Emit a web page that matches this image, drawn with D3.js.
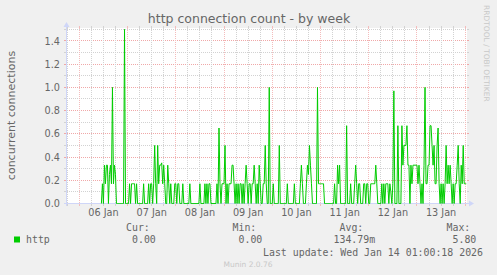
<!DOCTYPE html>
<html>
<head>
<meta charset="utf-8">
<script src="https://cdn.jsdelivr.net/npm/d3@7"></script>
<style>
  body { margin: 0; background: #f0f0f0; }
  svg { display: block; }
  text { font-family: "DejaVu Sans", sans-serif; fill: #666666; }
  text.mono { font-family: "DejaVu Sans Mono", monospace; }
</style>
</head>
<body>
<div id="chart"></div>
<script>
// half-hour samples of concurrent connections, one array per day (null = no data)
var jan06 = [null,null,null,null,null,null,null,null,null,null,null,null,null,null,null,null,null,null,null,null,null,null,
  0,0.17,0,0.33,0.17,0.33,0.33,0,0.25,0.33,0.17,1.0,0.17,0.33,0.25,0,0,0,0,0,0,0,0,1.5,0,0];
var jan07 = [0,0,0.17,0,0.17,0.17,0.17,0.17,0,0.17,0,0,0,0,0,0,0.17,0,0,0,0,0.17,0,0.17,
  0.17,0,0.17,0.5,0.17,0,0.5,0.17,0.33,0.33,0.35,0.17,0.33,0.17,0,0,0.33,0.17,0,0.17,0,0,0,0.17];
var jan08 = [0.17,0,0.17,0.17,0,0,0,0.17,0,0,0,0,0,0,0.17,0,0,0,0,0,0,0,0,0,
  0.17,0,0,0,0,0.17,0,0.17,0,0.17,0.17,0,0,0,0,0,0,0.17,0,0.65,0.17,0,0.17,0.17];
var jan09 = [0.17,0.5,0,0.17,0,0.17,0.17,0.17,0.33,0.33,0.17,0,0.17,0,0.17,0,0.17,0.17,0,0.17,0,0.17,0.33,0.17,
  0,0.17,0.17,0,0.17,0.17,0.33,0.17,0,0.17,0,0.33,0.17,0,0,0.17,0.17,0.5,0.17,0,0,1.0,0,0];
var jan10 = [0,0.17,0,0,0,0,0,0.5,0,0,0,0,0,0,0,0.17,0,0,0,0,0,0,0.17,0,
  0,0,0,0,0.17,0.33,0.17,0,0,0,0.17,0.33,0.25,0.5,0.33,0.17,0,0,0,0,0,1.0,0.17,0.17];
var jan11 = [0.17,0.17,0.17,0.17,0,0,0,0,0,0,0,0,0,0,0.17,0,0,0.33,0.17,0.33,0,0,0,0,
  0,0,0.67,0,0,0,0.17,0,0,0,0.17,0.33,0.17,0,0.17,0.17,0,0,0,0.17,0.17,0,0.17,0.17];
var jan12 = [0,0,0.17,0.17,0.17,0.17,0.17,0.33,0.17,0,0,0,0,0.17,0,0.17,0,0.17,0.17,0.17,0,0.17,0.1,0,
  0.17,0.97,0,0,0,0.67,0,0,0,0.67,0.33,0.5,0.5,0.5,0.67,0.33,0.33,0,0.33,0.17,0.33,0.33,0.33,0.33];
var jan13 = [0.33,0.17,0.33,0.17,0,0.17,0,0.33,1.0,0.17,0.17,0.33,0.33,0.67,0.67,0.5,0.33,0.5,0.17,0.17,0.5,0.65,0.17,0,
  0.17,0,0.17,0,0.17,0.5,0.17,0.33,0.17,0.33,0.17,0,0.17,0,0.17,0.17,0.33,0.5,0.17,0,0.33,0.17,0.5,0.17];
var jan14 = [0.17,0.17];

var dayStarts = ["2026-01-06","2026-01-07","2026-01-08","2026-01-09","2026-01-10",
  "2026-01-11","2026-01-12","2026-01-13","2026-01-14"];
var dayValues = [jan06, jan07, jan08, jan09, jan10, jan11, jan12, jan13, jan14];

var yTicks = [0, 0.2, 0.4, 0.6, 0.8, 1.0, 1.2, 1.4];
var legendHeads = ["Cur:", "Min:", "Avg:", "Max:"];
var legendValues = ["0.00", "0.00", "134.79m", "5.80"];
var seriesName = "http";
var lastUpdate = "Last update: Wed Jan 14 01:00:18 2026";

/** Layout **/
var W = 497, H = 275;
var plot = {left: 67, right: 467, top: 28, bottom: 203};
var colors = {
  back: "#f0f0f0", canvas: "#ffffff", axis: "#cfd6f8",
  grid: "#d2d2d2", mgrid: "#f0a8a8", mgridV: "#f4bcbc", line: "#00cc00", faint: "#c8c8c8"
};

// flatten the per-day arrays into timed points
var points = [];
dayValues.forEach(function(vals, d){
  var t0 = new Date(dayStarts[d] + "T00:00:00Z").getTime();
  vals.forEach(function(v, i){
    points.push({t: new Date(t0 + i * 1800000), v: v});
  });
});

var svg = d3.select("#chart").append("svg")
  .attr("width", W)
  .attr("height", H);

svg.append("rect").attr("width", W).attr("height", H).attr("fill", colors.back);

var x = d3.scaleUtc()
  .domain([new Date(Date.UTC(2026, 0, 5, 17, 53)), new Date(Date.UTC(2026, 0, 14, 0, 53))])
  .range([plot.left, plot.right]);
var y = d3.scaleLinear()
  .domain([0, 1.5])
  .range([plot.bottom + 0.5, plot.bottom + 0.5 - 174.2]);

// canvas
svg.append("rect")
  .attr("x", plot.left).attr("y", plot.top)
  .attr("width", plot.right - plot.left).attr("height", plot.bottom - plot.top + 1)
  .attr("fill", colors.canvas);

var snap = function(v){ return Math.floor(v) + 0.5; };
var grid = svg.append("g").attr("shape-rendering", "crispEdges");

/** horizontal grid: minor every 0.1, major every 0.2 **/
d3.range(1, 16).forEach(function(k){
  var yy = snap(y(k / 10));
  var c = k % 2 === 0 ? colors.mgrid : colors.grid;
  grid.append("line").attr("x1", plot.left).attr("x2", plot.right)
    .attr("y1", yy).attr("y2", yy)
    .attr("stroke", c).attr("stroke-dasharray", "1,1");
  grid.append("line").attr("x1", plot.left - 3).attr("x2", plot.left)
    .attr("y1", yy).attr("y2", yy).attr("stroke", c);
  grid.append("line").attr("x1", plot.right).attr("x2", plot.right + 2)
    .attr("y1", yy).attr("y2", yy).attr("stroke", c);
});

/** vertical grid: minor every 6 hours, major at midnight **/
var minorTimes = d3.utcHour.every(6).range(x.domain()[0], x.domain()[1])
  .filter(function(d){ return d.getUTCHours() !== 0; });
var majorTimes = d3.utcDay.range(x.domain()[0], x.domain()[1]);
[[minorTimes, colors.grid], [majorTimes, colors.mgridV]].forEach(function(set){
  set[0].forEach(function(t){
    var xx = snap(x(t));
    grid.append("line").attr("x1", xx).attr("x2", xx)
      .attr("y1", plot.top).attr("y2", plot.bottom)
      .attr("stroke", set[1]).attr("stroke-dasharray", "1,1");
    grid.append("line").attr("x1", xx).attr("x2", xx)
      .attr("y1", plot.bottom).attr("y2", plot.bottom + 3).attr("stroke", set[1]);
    grid.append("line").attr("x1", xx).attr("x2", xx)
      .attr("y1", plot.top - 2).attr("y2", plot.top).attr("stroke", set[1]);
  });
});

/** axes with arrows **/
grid.append("line").attr("x1", plot.left - 3).attr("x2", plot.right + 3)
  .attr("y1", plot.bottom + 0.5).attr("y2", plot.bottom + 0.5).attr("stroke", colors.axis);
grid.append("line").attr("x1", plot.left - 0.5).attr("x2", plot.left - 0.5)
  .attr("y1", plot.bottom + 3).attr("y2", plot.top - 3).attr("stroke", colors.axis);
svg.append("path")
  .attr("d", "M" + (plot.right + 2) + "," + (plot.bottom - 2.5) + "L" + (plot.right + 7) + "," + (plot.bottom + 0.5) +
    "L" + (plot.right + 2) + "," + (plot.bottom + 3.5) + "Z")
  .attr("fill", colors.axis);
svg.append("path")
  .attr("d", "M" + (plot.left - 3.5) + "," + (plot.top - 1) + "L" + (plot.left - 0.5) + "," + (plot.top - 6) +
    "L" + (plot.left + 2.5) + "," + (plot.top - 1) + "Z")
  .attr("fill", colors.axis);

/** the series **/
var line = d3.line()
  .defined(function(d){ return d.v !== null; })
  .x(function(d){ return x(d.t); })
  .y(function(d){ return y(d.v); });
svg.append("path")
  .datum(points)
  .attr("d", line)
  .attr("fill", "none")
  .attr("stroke", colors.line)
  .attr("stroke-width", 1);

/** tick labels **/
svg.selectAll(".ylab").data(yTicks).enter().append("text")
  .attr("class", "ylab")
  .attr("x", plot.left - 7)
  .attr("y", function(d){ return y(d) + 3.6; })
  .attr("text-anchor", "end")
  .style("font-size", "9.7px")
  .text(function(d){ return d3.format(".1f")(d); });

var labelDays = majorTimes.filter(function(t){ return d3.utcHour.offset(t, 12) < x.domain()[1]; });
svg.selectAll(".xlab").data(labelDays).enter().append("text")
  .attr("class", "xlab")
  .attr("x", function(d){ return x(d3.utcHour.offset(d, 12)); })
  .attr("y", 216)
  .attr("text-anchor", "middle")
  .style("font-size", "9.7px")
  .text(function(d){ return d3.utcFormat("%d %b")(d); });

/** titles **/
svg.append("text")
  .attr("x", 249).attr("y", 23)
  .attr("text-anchor", "middle")
  .style("font-size", "12.5px")
  .text("http connection count - by week");

svg.append("text")
  .attr("transform", "translate(15," + ((plot.top + plot.bottom) / 2) + ") rotate(-90)")
  .attr("text-anchor", "middle")
  .style("font-size", "11px")
  .text("concurrent connections");

svg.append("text")
  .attr("transform", "translate(484,5) rotate(90)")
  .style("font-size", "7.5px")
  .style("fill", colors.faint)
  .text("RRDTOOL / TOBI OETIKER");

/** legend **/
svg.append("rect")
  .attr("x", 14).attr("y", 236.5).attr("width", 6).attr("height", 6)
  .attr("fill", colors.line);
svg.append("text").attr("class", "mono")
  .attr("x", 26).attr("y", 243)
  .style("font-size", "9.9px")
  .text(seriesName);

var headX = [126, 232.5, 339.5, 446.5];
var valX = [132, 238.5, 333.5, 452.5];
legendHeads.forEach(function(h, i){
  svg.append("text").attr("class", "mono")
    .attr("x", headX[i]).attr("y", 231)
    .style("font-size", "9.9px")
    .text(h);
  svg.append("text").attr("class", "mono")
    .attr("x", valX[i]).attr("y", 243)
    .style("font-size", "9.9px")
    .text(legendValues[i]);
});

svg.append("text").attr("class", "mono")
  .attr("x", 483).attr("y", 255.5)
  .attr("text-anchor", "end")
  .style("font-size", "9.9px")
  .text(lastUpdate);

svg.append("text")
  .attr("x", 248).attr("y", 267)
  .attr("text-anchor", "middle")
  .style("font-size", "7.5px")
  .style("fill", colors.faint)
  .text("Munin 2.0.76");
</script>
</body>
</html>
